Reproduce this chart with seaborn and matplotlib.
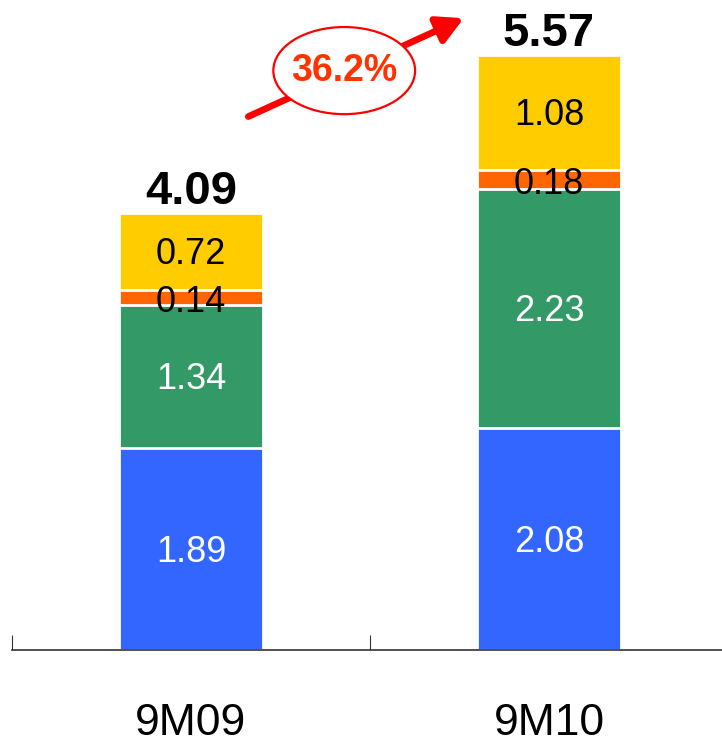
import matplotlib
matplotlib.use("Agg")
import matplotlib.pyplot as plt
from matplotlib.patches import Ellipse
import numpy as np
import seaborn as sns

# Revenue breakdown by period (stacked segments, bottom to top)
categories = ["9M09", "9M10"]
seg_blue = [1.89, 2.08]
seg_green = [1.34, 2.23]
seg_orange = [0.14, 0.18]
seg_yellow = [0.72, 1.08]
totals = [4.09, 5.57]
growth_label = "36.2%"

colors = ["#3366FF", "#339966", "#FF6600", "#FFCC00"]
label_colors = ["white", "white", "black", "black"]

sns.set_theme(style="white")
plt.rcParams["font.family"] = ["Liberation Sans", "DejaVu Sans"]

fig = plt.figure(figsize=(7.22, 7.37), dpi=100)
ax = fig.add_axes([12 / 722, 87 / 737, 716 / 722, 650 / 737])

segments = [seg_blue, seg_green, seg_orange, seg_yellow]
cum = np.cumsum(np.array(segments), axis=0)

# Draw from the tallest cumulative stack down so every segment shows on top
for i in range(len(segments) - 1, -1, -1):
    sns.barplot(x=categories, y=cum[i], color=colors[i], saturation=1,
                width=0.4, edgecolor="white", linewidth=2, ax=ax)

# Segment value labels
for i, seg in enumerate(segments):
    base = cum[i] - np.array(seg)
    for j, v in enumerate(seg):
        y = base[j] + v / 2 - 0.03
        if i == 2:
            y -= 0.02
        ax.text(j, y, f"{v:.2f}", ha="center", va="center",
                fontsize=26, color=label_colors[i])

# Totals above each bar
for j, t in enumerate(totals):
    ax.text(j, t - 0.01, f"{t:.2f}", ha="center", va="bottom",
            fontsize=34, fontweight="bold", color="black")

# Growth arrow with circled percentage
ax.annotate("", xy=(0.762, 5.91), xytext=(0.160, 4.99),
            arrowprops=dict(arrowstyle="-|>,head_length=1.3,head_width=0.7",
                            color="#FF0000", lw=4.8, shrinkA=0, shrinkB=0))
ax.add_patch(Ellipse((0.428, 5.42), 0.396, 0.815, facecolor="white",
                     edgecolor="#FF0000", lw=1.6, zorder=5))
ax.text(0.428, 5.42, growth_label, ha="center", va="center", fontsize=27,
        fontweight="bold", color="#FF3300", zorder=6)

ax.set_xlim(-0.5, 1.5)
ax.set_ylim(0, 650 / 106.9)
ax.set_yticks([])
for s in ["left", "top", "right"]:
    ax.spines[s].set_visible(False)
ax.spines["bottom"].set_color("#333333")
ax.spines["bottom"].set_linewidth(1.2)

ax.set_xticks([0, 1])
ax.set_xticklabels(categories, fontsize=32, color="black")
ax.tick_params(axis="x", which="major", length=0, pad=38)
ax.set_xticks([-0.5, 0.5, 1.5], minor=True)
ax.tick_params(axis="x", which="minor", direction="in", length=11,
               width=0.8, color="#333333", bottom=True)
ax.set_xlabel("")
ax.set_ylabel("")

fig.savefig("out.png", dpi=100)
